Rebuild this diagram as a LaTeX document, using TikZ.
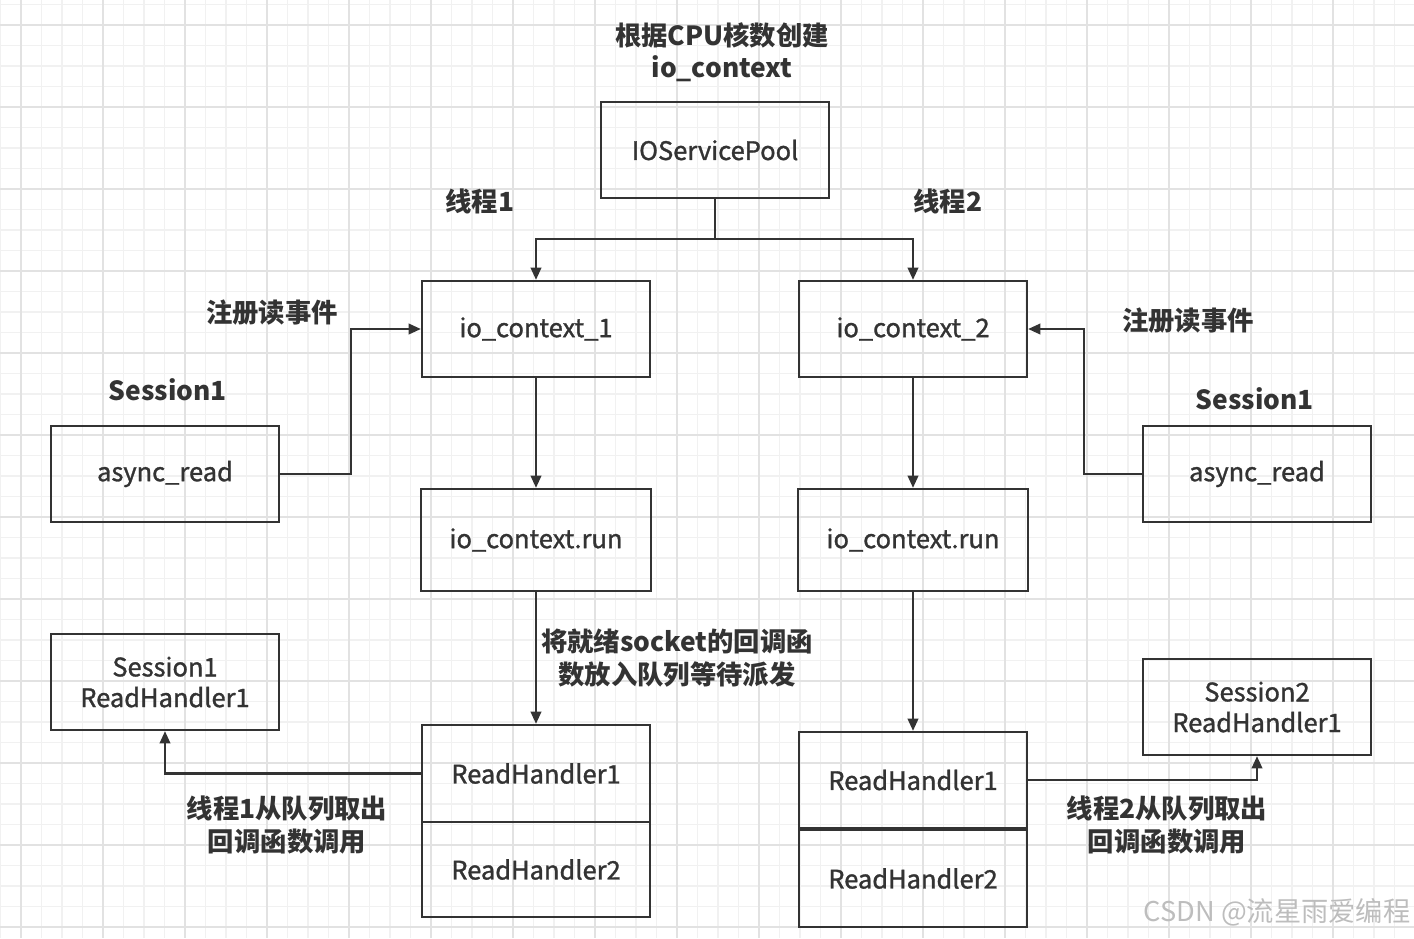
\documentclass[tikz,border=0pt]{standalone}
\usepackage{fontspec}
\setmainfont{Noto Sans CJK SC}
\newfontfamily\boxfont{Noto Sans CJK SC}[FakeBold=1.2]
\usetikzlibrary{arrows.meta}
\definecolor{ink}{HTML}{333333}
\definecolor{gridminor}{HTML}{F1F1F1}
\definecolor{gridmajor}{HTML}{E2E2E2}
\definecolor{wmark}{HTML}{BDBDBD}
\begin{document}
\begin{tikzpicture}[x=0.02cm,y=-0.02cm,
box/.style={%
draw=ink,
line width=1.3pt,
minimum width=4.56cm,
minimum height=1.92cm,
inner sep=0pt,
text=ink,
align=center,
font=\boxfont\fontsize{14.5}{17.5}\selectfont
},
lbl/.style={%
text=ink,
align=center,
font=\bfseries\fontsize{15}{18.5}\selectfont
},
link/.style={%
draw=ink,
line width=1.3pt,
-{Triangle[length=7pt,width=6pt]}
},
]
\useasboundingbox (0,0) rectangle (1414,938);
%% Grid
\foreach \i in {0,...,68}{%
\draw[gridminor,line width=0.6pt] (0.5+20.5*\i,0)--(0.5+20.5*\i,938);
}
\foreach \j in {0,...,45}{%
\draw[gridminor,line width=0.6pt] (0,4.5+20.5*\j)--(1414,4.5+20.5*\j);
}
\foreach \i in {0,...,17}{%
\draw[gridmajor,line width=0.7pt] (21+82*\i,0)--(21+82*\i,938);
}
\foreach \j in {0,...,11}{%
\draw[gridmajor,line width=0.7pt] (0,25+82*\j)--(1414,25+82*\j);
}
%% Boxes
\node[box] (pool) at (715,150) {IOServicePool};
\node[box] (ctx1) at (536,329) {io\_context\_1};
\node[box] (ctx2) at (913,329) {io\_context\_2};
\node[box] (readL) at (165,474) {async\_read};
\node[box] (readR) at (1257,474) {async\_read};
\node[box,minimum width=4.6cm,minimum height=2.04cm] (run1) at (536,540) {io\_context.run};
\node[box,minimum width=4.6cm,minimum height=2.04cm] (run2) at (913,540) {io\_context.run};
\node[box] (doneL) at (165,682) {Session1\\ReadHandler1};
\node[box] (doneR) at (1257,707) {Session2\\ReadHandler1};
\node[box,minimum height=1.94cm] (hA1) at (536,773.5) {ReadHandler1};
\node[box,minimum height=1.9cm] (hA2) at (536,869.5) {ReadHandler2};
\node[box] (hB1) at (913,780) {ReadHandler1};
\node[box,minimum height=1.94cm] (hB2) at (913,878.5) {ReadHandler2};
%% Labels
\node[lbl] (cpu) at (722,52) {根据CPU核数创建\\io\_context};
\node[lbl] (t1) at (480,201) {线程1};
\node[lbl] (t2) at (948,201) {线程2};
\node[lbl] (regL) at (272,313) {注册读事件};
\node[lbl] (regR) at (1188,321) {注册读事件};
\node[lbl] (sesL) at (168,390) {Session1};
\node[lbl] (sesR) at (1255,399) {Session1};
\node[lbl] (queue) at (677,658) {将就绪socket的回调函\\数放入队列等待派发};
\node[lbl] (takeL) at (287,825) {线程1从队列取出\\回调函数调用};
\node[lbl] (takeR) at (1167,825) {线程2从队列取出\\回调函数调用};
\node[text=wmark,font=\fontsize{15.5}{17}\selectfont] (csdn) at (1277,912) {CSDN @流星雨爱编程};
%% Connectors
\coordinate (split) at (715,239);
\draw[ink,line width=1.3pt] (pool.south)--(split);
\draw[link] (split)-|(ctx1.north);
\draw[link] (split)-|(ctx2.north);
\draw[link] (readL.east)--++(71,0)|-(ctx1.west);
\draw[link] (readR.west)--++(-58,0)|-(ctx2.east);
\draw[link] (ctx1)--(run1);
\draw[link] (ctx2)--(run2);
\draw[link] (run1)--(hA1);
\draw[link] (run2)--(hB1);
\draw[link] (hA1.west)-|(doneL.south);
\draw[link] (hB1.east)-|(doneR.south);
\end{tikzpicture}
\end{document}
